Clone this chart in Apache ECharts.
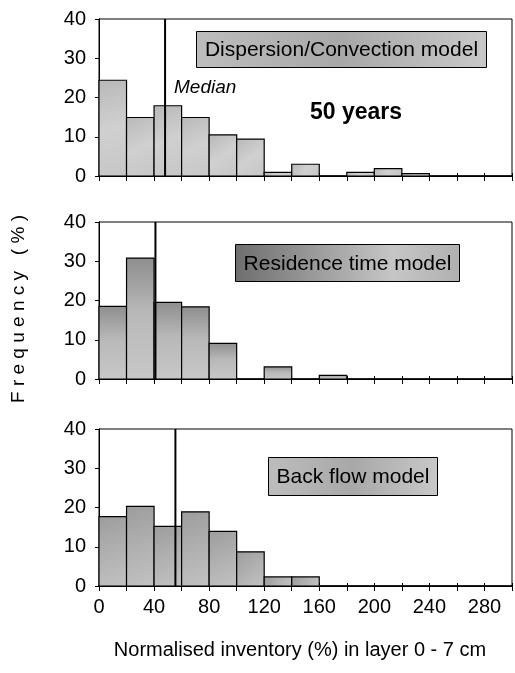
<!DOCTYPE html>
<html><head><meta charset="utf-8">
<script src="https://cdn.jsdelivr.net/npm/echarts@6/dist/echarts.min.js"></script>
<style>html,body{margin:0;padding:0;background:#fff}#c{width:515px;height:673px}</style>
</head><body><div id="c"></div>
<script>
// bin left edges (width 20)
const binEdges = [0,20,40,60,80,100,120,140,160,180,200,220,240,260,280];
const binWidth = 20;
const dispersion = [24.4,14.9,17.9,14.9,10.5,9.4,0.9,3.0,0,0.9,1.9,0.6,0,0,0];
const residence  = [18.5,30.8,19.5,18.4,9.1,0,3.1,0,0.9,0,0,0,0,0,0];
const backflow   = [17.7,20.3,15.2,18.9,13.9,8.7,2.3,2.3,0,0,0,0,0,0,0];
const medians = [48, 41, 55.5];
const xTickLabels = [0,40,80,120,160,200,240,280];
const yTickLabels = [0,10,20,30,40];
const panelNames = ['Dispersion/Convection model','Residence time model','Back flow model'];

const chart = echarts.init(document.getElementById('c'), null, {renderer:'canvas'});
const G = echarts.graphic;
const tops = [19, 222, 429];
const H = 157;
const fonts = 'Arial, "Liberation Sans", Helvetica, sans-serif';

const fills = [
  ()=>new G.LinearGradient(0,0,1,1,[{offset:0,color:'#b8b8b8'},{offset:0.5,color:'#d0d0d0'},{offset:1,color:'#c6c6c6'}]),
  ()=>new G.LinearGradient(0,0,0,1,[{offset:0,color:'#8e8e8e'},{offset:0.45,color:'#b8b8b8'},{offset:1,color:'#c8c8c8'}]),
  ()=>new G.LinearGradient(0,0,1,1,[{offset:0,color:'#9c9c9c'},{offset:0.5,color:'#b0b0b0'},{offset:1,color:'#c2c2c2'}])
];

const datasets = [dispersion, residence, backflow];
const grid = [], xAxis = [], yAxis = [], series = [];
datasets.forEach((vals, i) => {
  grid.push({left:99, top:tops[i], width:413, height:H, show:true, borderColor:'#000', borderWidth:1, backgroundColor:'#fff'});
  const isLast = i === 2;
  xAxis.push({type:'value', gridIndex:i, min:0, max:300, interval:20,
    axisLine:{show:true, onZero:false, lineStyle:{color:'#000', width:1.5}},
    axisTick:{show:true, length:5, lineStyle:{color:'#000'}},
    splitLine:{show:false},
    axisLabel:{show:isLast, color:'#000', fontSize:20, fontFamily:fonts, margin:11,
      formatter:v => xTickLabels.includes(v) ? String(v) : ''}
  });
  xAxis.push({type:'value', gridIndex:i, min:0, max:300, interval:20, position:'top',
    axisLine:{show:true, lineStyle:{color:'#000'}}, axisTick:{show:true, length:3, lineStyle:{color:'#000'}},
    axisLabel:{show:false}, splitLine:{show:false}});
  yAxis.push({type:'value', gridIndex:i, min:0, max:40, interval:10,
    axisLine:{show:true, lineStyle:{color:'#000'}},
    axisTick:{show:true, length:4, lineStyle:{color:'#000'}},
    splitLine:{show:false},
    axisLabel:{color:'#000', fontSize:20, fontFamily:fonts, margin:13,
      formatter:v => yTickLabels.includes(v) ? String(v) : ''}
  });
  yAxis.push({type:'value', gridIndex:i, min:0, max:40, interval:10, position:'right',
    axisLine:{show:true, lineStyle:{color:'#000'}}, axisTick:{show:true, length:3, inside:true, lineStyle:{color:'#000'}},
    axisLabel:{show:false}, splitLine:{show:false}});
  const data = binEdges.map((e, k) => [e, e + binWidth, vals[k]]);
  const fillFn = fills[i];
  series.push({type:'custom', xAxisIndex:2*i, yAxisIndex:2*i, data:data, silent:true,
    renderItem:(params, api) => {
      const x0 = api.value(0), x1 = api.value(1), v = api.value(2);
      if (!v) return null;
      const p0 = api.coord([x0, v]), p1 = api.coord([x1, 0]);
      return {type:'rect', shape:{x:p0[0], y:p0[1], width:p1[0]-p0[0], height:p1[1]-p0[1]},
        style:{fill:fillFn(), stroke:'#000', lineWidth:1.2}};
    }, z:2});
  series.push({type:'line', xAxisIndex:2*i, yAxisIndex:2*i, data:[[medians[i],0],[medians[i],40]],
    symbol:'none', silent:true, lineStyle:{color:'#000', width:2}, z:5});
});

function labelBox(x, y, w, h, text, i){
  const grad = i===1
    ? new G.LinearGradient(0,0,1,0,[{offset:0,color:'#6e6e6e'},{offset:0.35,color:'#9a9a9a'},{offset:0.7,color:'#c6c6c6'},{offset:1,color:'#b0b0b0'}])
    : new G.LinearGradient(0,0,1,0,[{offset:0,color:'#bdbdbd'},{offset:0.5,color:'#a8a8a8'},{offset:1,color:'#c8c8c8'}]);
  return {type:'group', left:x, top:y, children:[
    {type:'rect', shape:{x:0, y:0, width:w, height:h}, style:{fill:grad, stroke:'#000', lineWidth:1}},
    {type:'text', x:w/2, y:h/2+1, style:{text:text, fill:'#000', font:'21px '+fonts, align:'center', verticalAlign:'middle'}}
  ]};
}

chart.setOption({
  animation:false,
  grid, xAxis, yAxis, series,
  graphic:[
    labelBox(196, 31, 290, 36, panelNames[0], 0),
    labelBox(235, 244, 224, 37, panelNames[1], 1),
    labelBox(268, 457, 169, 38, panelNames[2], 2),
    {type:'text', left:174, top:78, style:{text:'Median', fill:'#000', font:'italic 19px '+fonts}},
    {type:'text', left:310, top:101, style:{text:'50 years', fill:'#000', font:'bold 23px '+fonts}},
    {type:'text', x:19, y:309, rotation:Math.PI/2, style:{text:'F r e q u e n c y   ( % )', fill:'#000', font:'19px '+fonts, align:'center', verticalAlign:'middle'}},
    {type:'text', x:300, y:650, style:{text:'Normalised inventory (%) in layer 0 - 7 cm', fill:'#000', font:'20px '+fonts, align:'center', verticalAlign:'middle'}}
  ]
});
</script></body></html>
